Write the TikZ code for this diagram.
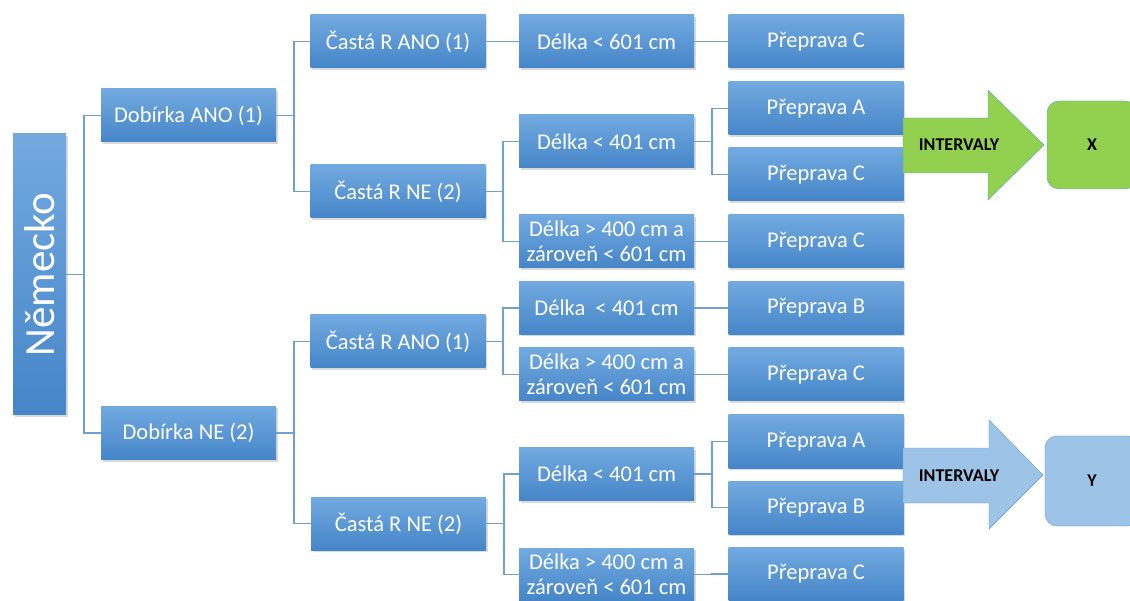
\documentclass[tikz,border=0pt]{standalone}
\usepackage{fontspec}
\setmainfont{Carlito}
\usetikzlibrary{shadows}
\definecolor{boxtop}{HTML}{72AAE0}
\definecolor{boxbot}{HTML}{4585C8}
\definecolor{linkcol}{HTML}{719FD3}
\definecolor{grn}{HTML}{92D050}
\definecolor{lblue}{HTML}{9DC3E6}
\definecolor{edge}{HTML}{5B9BD5}
\begin{document}
\begin{tikzpicture}[x=1pt,y=-1pt,
  box/.style={top color=boxtop,bottom color=boxbot,text=white,minimum width=175pt,minimum height=53pt,
    inner sep=0pt,align=center,font=\fontsize{22.5}{25}\selectfont,
    drop shadow={opacity=.3,shadow xshift=1.5pt,shadow yshift=-2pt}},
  link/.style={draw=linkcol,line width=1.6pt},
  tag/.style={font=\bfseries\fontsize{18}{20}\selectfont}]
\useasboundingbox (0,0) rectangle (1130,601);
% tree
\node[box,minimum width=53pt,minimum height=281pt,font=\fontsize{43}{43}\selectfont] (root) at (39.5,274.5) {\rotatebox{90}{Německo}};
\node[box] (d1) at (188.5,115.5) {Dobírka ANO (1)};
\node[box] (d2) at (188.5,433) {Dobírka NE (2)};
\node[box] (c1) at (398,41.5) {Častá R ANO (1)};
\node[box] (c2) at (398,191.5) {Častá R NE (2)};
\node[box] (c3) at (398,341.5) {Častá R ANO (1)};
\node[box] (c4) at (398.5,523.5) {Častá R NE (2)};
\node[box] (l1) at (606.5,41.5) {Délka < 601 cm};
\node[box] (l2) at (606.5,141.5) {Délka < 401 cm};
\node[box] (l3) at (606.5,241.5) {Délka > 400 cm a\\zároveň < 601 cm};
\node[box] (l4) at (606.5,308) {Délka \ < 401 cm};
\node[box] (l5) at (606.5,374.5) {Délka > 400 cm a\\zároveň < 601 cm};
\node[box] (l6) at (606.5,474) {Délka < 401 cm};
\node[box] (l7) at (606.5,574.5) {Délka > 400 cm a\\zároveň < 601 cm};
\node[box] (p1) at (816,41.5) {Přeprava C};
\node[box] (p2) at (816,108.5) {Přeprava A};
\node[box] (p3) at (816,174.5) {Přeprava C};
\node[box] (p4) at (816,241.5) {Přeprava C};
\node[box] (p5) at (816,308) {Přeprava B};
\node[box] (p6) at (816,374.5) {Přeprava C};
\node[box] (p7) at (816,441.5) {Přeprava A};
\node[box] (p8) at (816,507.5) {Přeprava B};
\node[box] (p9) at (816,574) {Přeprava C};
\foreach \a/\b in {root/d1,root/d2,d1/c1,d1/c2,d2/c3,d2/c4,c1/l1,c2/l2,c2/l3,c3/l4,c3/l5,c4/l6,c4/l7,
  l1/p1,l2/p2,l2/p3,l3/p4,l4/p5,l5/p6,l6/p7,l6/p8,l7/p9}
  \draw[link] (\a.east) -- ++(17.5,0) |- (\b.west);
% results
\draw[draw=edge,fill=grn] (903,118) -- (988,118) -- (988,90) -- (1044,145) -- (988,200) -- (988,173) -- (903,173) -- cycle;
\node[tag] (ix) at (959,145) {INTERVALY};
\node[tag,draw=edge,fill=grn,rounded corners=12pt,minimum width=90pt,minimum height=88pt] (x) at (1092,145) {X};
\draw[draw=edge,fill=lblue] (903,448) -- (989,448) -- (989,420) -- (1043,475) -- (989,529) -- (989,503) -- (903,503) -- cycle;
\node[tag] (iy) at (959,476) {INTERVALY};
\node[tag,draw=edge,fill=lblue,rounded corners=12pt,minimum width=94pt,minimum height=90pt] (y) at (1092,481) {Y};
\end{tikzpicture}
\end{document}
